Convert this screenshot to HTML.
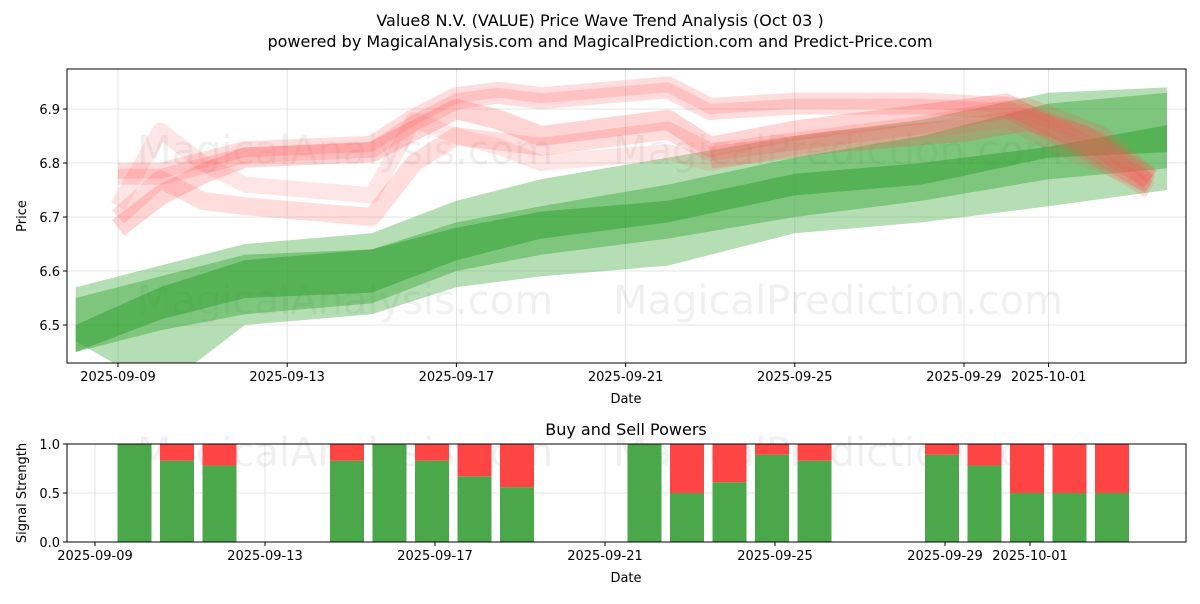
<!DOCTYPE html>
<html><head><meta charset="utf-8"><style>
body{margin:0;background:#fff;font-family:"DejaVu Sans","Liberation Sans",sans-serif}
svg text{font-family:"DejaVu Sans","Liberation Sans",sans-serif}
</style></head><body>
<svg id="chart" width="1200" height="600" viewBox="0 0 1200 600" xmlns="http://www.w3.org/2000/svg">
<rect width="1200" height="600" fill="#fff"/>
<text x="600" y="26" font-size="16" text-anchor="middle">Value8 N.V. (VALUE) Price Wave Trend Analysis (Oct 03 )</text>
<text x="600" y="47" font-size="16" text-anchor="middle">powered by MagicalAnalysis.com and MagicalPrediction.com and Predict-Price.com</text>
<g id="topPanel"></g>
<g id="bottomPanel"></g>
</svg>
<script>
const NS='http://www.w3.org/2000/svg';
// ---- data ----
const xTickDays=[0,4,8,12,16,20,22];
const xTickLabels=['2025-09-09','2025-09-13','2025-09-17','2025-09-21','2025-09-25','2025-09-29','2025-10-01'];
const yTicks=[6.5,6.6,6.7,6.8,6.9];
const bandDays=[-1,1,3,6,8,10,13,16,19,22,24.8];
const outerUpper=[6.57,6.61,6.65,6.67,6.73,6.77,6.81,6.85,6.88,6.93,6.94];
const outerLower=[6.47,6.38,6.50,6.52,6.57,6.59,6.61,6.67,6.69,6.72,6.75];
const midUpper=[6.55,6.59,6.63,6.64,6.69,6.72,6.76,6.81,6.85,6.91,6.93];
const midLower=[6.45,6.49,6.52,6.54,6.60,6.63,6.66,6.70,6.73,6.77,6.79];
const coreUpper=[6.50,6.57,6.62,6.64,6.68,6.71,6.73,6.78,6.80,6.83,6.87];
const coreLower=[6.45,6.51,6.55,6.56,6.62,6.66,6.69,6.74,6.76,6.81,6.82];
const r1Days=[0,1,2,3,6,7,8,9,10,13,14,16,19,21.5,23.2,24.4];
const r1=[6.78,6.78,6.80,6.82,6.83,6.88,6.92,6.93,6.92,6.94,6.90,6.91,6.91,6.90,6.85,6.77];
const r2Days=[0,1,2,3,6,7,8,9,10,13,14,16,19,21,22.5,24.4];
const r2=[6.68,6.74,6.78,6.81,6.82,6.86,6.90,6.88,6.85,6.88,6.83,6.86,6.89,6.91,6.85,6.76];
const r3=[6.70,6.77,6.73,6.72,6.70,6.80,6.85,6.84,6.83,6.86,6.82,6.84,6.87,6.90,6.84,6.75];
const r4=[6.72,6.86,6.80,6.76,6.74,6.88,6.85,6.83,6.80,6.82,6.80,6.83,6.86,6.88,6.82,6.76];
const r5Days=[14,17,20,21.5,22.8,24.4];
const r5=[6.81,6.84,6.86,6.88,6.85,6.77];
const barDays=[1,2,3,6,7,8,9,10,13,14,15,16,17,20,21,22,23,24];
const buyPower=[1,0.83,0.78,0.83,1,0.83,0.67,0.56,1,0.5,0.61,0.89,0.83,0.89,0.78,0.5,0.5,0.5];
const bTickDays=[0,4,8,12,16,20,22];
// ---- scales ----
const T={l:67,r:1186,t:69,b:363};
const B={l:67,r:1186,t:444,b:542};
const xs=d=>118+42.3*d;
const ys=v=>325-(v-6.5)*540;
const xb=d=>95+42.5*d;
const yb=v=>B.b-v*(B.b-B.t);
function el(tag,attrs,parent){const e=document.createElementNS(NS,tag);for(const k in attrs)e.setAttribute(k,attrs[k]);parent.appendChild(e);return e;}
const topG=document.getElementById('topPanel'),botG=document.getElementById('bottomPanel');
const defs=el('defs',{},topG);
const cp=el('clipPath',{id:'ct'},defs);el('rect',{x:T.l,y:T.t,width:T.r-T.l,height:T.b-T.t},cp);
xTickDays.forEach(d=>{const g=el('line',{x1:xs(d),x2:xs(d),y1:T.t,y2:T.b,stroke:'#ddd','stroke-width':0.8},topG);});
yTicks.forEach(v=>{const g=el('line',{x1:T.l,x2:T.r,y1:ys(v),y2:ys(v),stroke:'#ddd','stroke-width':0.8},topG);});
[[345,150],[838,150],[345,300],[838,300]].forEach((p,i)=>{const w=el('text',{x:p[0],y:p[1]+14,'font-size':40,fill:'#000','fill-opacity':0.06,'text-anchor':'middle'},topG);w.textContent=i%2?'MagicalPrediction.com':'MagicalAnalysis.com';});
const plot=el('g',{'clip-path':'url(#ct)'},topG);
function band(up,lo,op,name){let pts=bandDays.map((d,i)=>xs(d)+','+ys(up[i]));for(let i=bandDays.length-1;i>=0;i--)pts.push(xs(bandDays[i])+','+ys(lo[i]));const p=el('polygon',{points:pts.join(' '),fill:'#2ca02c','fill-opacity':op},plot);}
band(outerUpper,outerLower,0.35,'green-band-outer');
band(midUpper,midLower,0.4,'green-band-middle');
band(coreUpper,coreLower,0.5,'green-band-core');
function wave(days,vals,w,op,name){const p=el('polyline',{points:days.map((d,i)=>xs(d)+','+ys(vals[i])).join(' '),fill:'none',stroke:'#ff5555','stroke-opacity':op,'stroke-width':w,'stroke-linejoin':'round','stroke-linecap':'butt'},plot);}
wave(r1Days,r1,22,0.2,'red-wave-1');
wave(r1Days,r1,10,0.2,'red-wave-1-core');
wave(r2Days,r2,20,0.25,'red-wave-2');
wave(r2Days,r3,18,0.2,'red-wave-3');
wave(r2Days,r4,16,0.15,'red-wave-4');
wave(r5Days,r5,22,0.25,'red-wave-5');
el('rect',{x:T.l,y:T.t,width:T.r-T.l,height:T.b-T.t,fill:'none',stroke:'#000','stroke-width':1},topG);
xTickDays.forEach((d,i)=>{el('line',{x1:xs(d),x2:xs(d),y1:T.b,y2:T.b+4,stroke:'#000'},topG);const t=el('text',{x:xs(d),y:T.b+18,'font-size':13,'text-anchor':'middle'},topG);t.textContent=xTickLabels[i];});
yTicks.forEach(v=>{el('line',{x1:T.l-4,x2:T.l,y1:ys(v),y2:ys(v),stroke:'#000'},topG);const t=el('text',{x:T.l-7,y:ys(v)+5,'font-size':13,'text-anchor':'end'},topG);t.textContent=v.toFixed(1);});
let t=el('text',{x:626,y:403,'font-size':13,'text-anchor':'middle'},topG);t.textContent='Date';
t=el('text',{x:26,y:216,'font-size':13,'text-anchor':'middle',transform:'rotate(-90 26 216)'},topG);t.textContent='Price';
// ---- bottom ----
t=el('text',{x:626,y:435,'font-size':16,'text-anchor':'middle'},botG);t.textContent='Buy and Sell Powers';
[0,0.5,1].forEach(v=>{const g=el('line',{x1:B.l,x2:B.r,y1:yb(v),y2:yb(v),stroke:'#ddd','stroke-width':0.8},botG);});
bTickDays.forEach(d=>{const g=el('line',{x1:xb(d),x2:xb(d),y1:B.t,y2:B.b,stroke:'#ddd','stroke-width':0.8},botG);});
[345,838].forEach((px,i)=>{const w=el('text',{x:px,y:466,'font-size':40,fill:'#000','fill-opacity':0.06,'text-anchor':'middle'},botG);w.textContent=i?'MagicalPrediction.com':'MagicalAnalysis.com';});
barDays.forEach((d,i)=>{const x=xb(d)-17-3,v=buyPower[i];
const g=el('rect',{x:x,y:yb(v),width:34,height:yb(0)-yb(v),fill:'#4aa84a'},botG);
const r=el('rect',{x:x,y:yb(1),width:34,height:yb(v)-yb(1),fill:'#ff4444'},botG);});
el('rect',{x:B.l,y:B.t,width:B.r-B.l,height:B.b-B.t,fill:'none',stroke:'#000','stroke-width':1},botG);
bTickDays.forEach((d,i)=>{el('line',{x1:xb(d),x2:xb(d),y1:B.b,y2:B.b+4,stroke:'#000'},botG);const tt=el('text',{x:xb(d),y:B.b+18,'font-size':13,'text-anchor':'middle'},botG);tt.textContent=xTickLabels[i];});
[0,0.5,1].forEach(v=>{el('line',{x1:B.l-4,x2:B.l,y1:yb(v),y2:yb(v),stroke:'#000'},botG);const tt=el('text',{x:B.l-7,y:yb(v)+5,'font-size':13,'text-anchor':'end'},botG);tt.textContent=v.toFixed(1);});
t=el('text',{x:626,y:582,'font-size':13,'text-anchor':'middle'},botG);t.textContent='Date';
t=el('text',{x:26,y:493,'font-size':13,'text-anchor':'middle',transform:'rotate(-90 26 493)'},botG);t.textContent='Signal Strength';
</script>
</body></html>
